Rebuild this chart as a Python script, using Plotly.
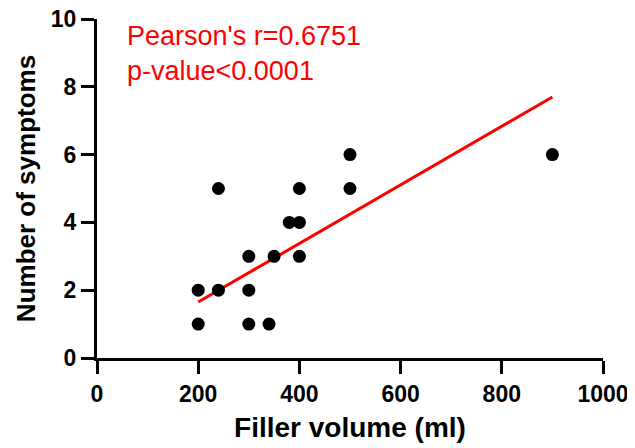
import plotly.graph_objects as go

filler_volume = [200, 200, 240, 240, 300, 300, 300, 340, 350, 380, 400, 400, 400, 500, 500, 900]
symptoms = [1, 2, 2, 5, 1, 2, 3, 1, 3, 4, 4, 3, 5, 5, 6, 6]
fit_x = [200, 900]
fit_y = [1.65, 7.70]
x_ticks = [0, 200, 400, 600, 800, 1000]
y_ticks = [0, 2, 4, 6, 8, 10]
stats_text = "Pearson's r=0.6751<br>p-value<0.0001"

fig = go.Figure()
fig.add_trace(go.Scatter(x=fit_x, y=fit_y, mode="lines",
                         line=dict(color="#ff0000", width=3), showlegend=False))
fig.add_trace(go.Scatter(x=filler_volume, y=symptoms, mode="markers",
                         marker=dict(color="black", size=13, line=dict(width=0)),
                         showlegend=False))

axis_common = dict(showgrid=False, zeroline=False, showline=True, linecolor="black",
                   linewidth=3, ticks="outside", ticklen=13, tickwidth=3, tickcolor="black",
                   ticklabeloverflow="allow",
                   tickfont=dict(family="Liberation Sans, Arial", size=23, color="black", weight="bold"))

fig.update_xaxes(range=[0, 1000], tickvals=x_ticks, ticktext=[str(v) for v in x_ticks],
                 title=dict(text="<b>Filler volume (ml)</b>", standoff=12,
                            font=dict(family="Liberation Sans, Arial", size=28, color="black")),
                 **axis_common)
fig.update_yaxes(range=[0, 10], tickvals=y_ticks, ticktext=[str(v) for v in y_ticks],
                 title=dict(text="<b>Number of symptoms</b>", standoff=8,
                            font=dict(family="Liberation Sans, Arial", size=26, color="black")),
                 **axis_common)

fig.add_annotation(x=0, y=1, xref="paper", yref="paper", xanchor="left", yanchor="top",
                   xshift=28, yshift=0, text=stats_text, showarrow=False, align="left",
                   font=dict(family="Liberation Sans, Arial", size=27, color="#ff0000"))

# page body has an 8px margin, so the figure is offset by 8px; compensate
fig.update_layout(width=627, height=440, margin=dict(l=89, r=32, t=11, b=90),
                  plot_bgcolor="white", paper_bgcolor="white")
fig.update_xaxes(automargin=False)
fig.update_yaxes(automargin=False)
fig.write_html("out.html")
